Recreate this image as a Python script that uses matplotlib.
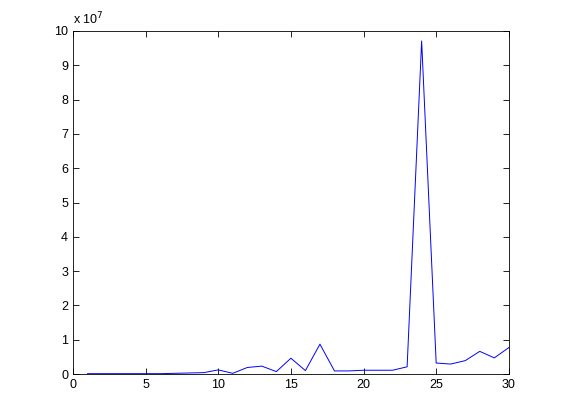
import matplotlib
matplotlib.use("Agg")
import matplotlib.pyplot as plt

x = list(range(1, 31))
y = [0.01, 0.01, 0.01, 0.01, 0.01, 0.01, 0.02, 0.03, 0.04, 0.12,
     0.02, 0.19, 0.23, 0.07, 0.46, 0.10, 0.87, 0.09, 0.09, 0.11,
     0.11, 0.11, 0.21, 9.71, 0.32, 0.29, 0.39, 0.66, 0.47, 0.77]
xticks = [0, 5, 10, 15, 20, 25, 30]
yticks = list(range(0, 11))

plt.rcParams['font.family'] = ['Liberation Sans', 'DejaVu Sans']
fig = plt.figure(figsize=(5.61, 4.2), dpi=100)
ax = fig.add_axes([0.13, 0.1095, 0.777, 0.8167])
ax.plot(x, y, color=(0, 0, 1), linewidth=0.7)
ax.set_xlim(0, 30)
ax.set_ylim(0, 10)
ax.set_xticks(xticks)
ax.set_yticks(yticks)
ax.tick_params(direction='in', top=True, right=True, labelsize=9, length=4, width=0.6)
for s in ax.spines.values():
    s.set_linewidth(0.6)
ax.text(0.0, 1.012, r'x 10$^{7}$', transform=ax.transAxes, fontsize=9, ha='left', va='bottom')
fig.savefig("out.png", dpi=100)
